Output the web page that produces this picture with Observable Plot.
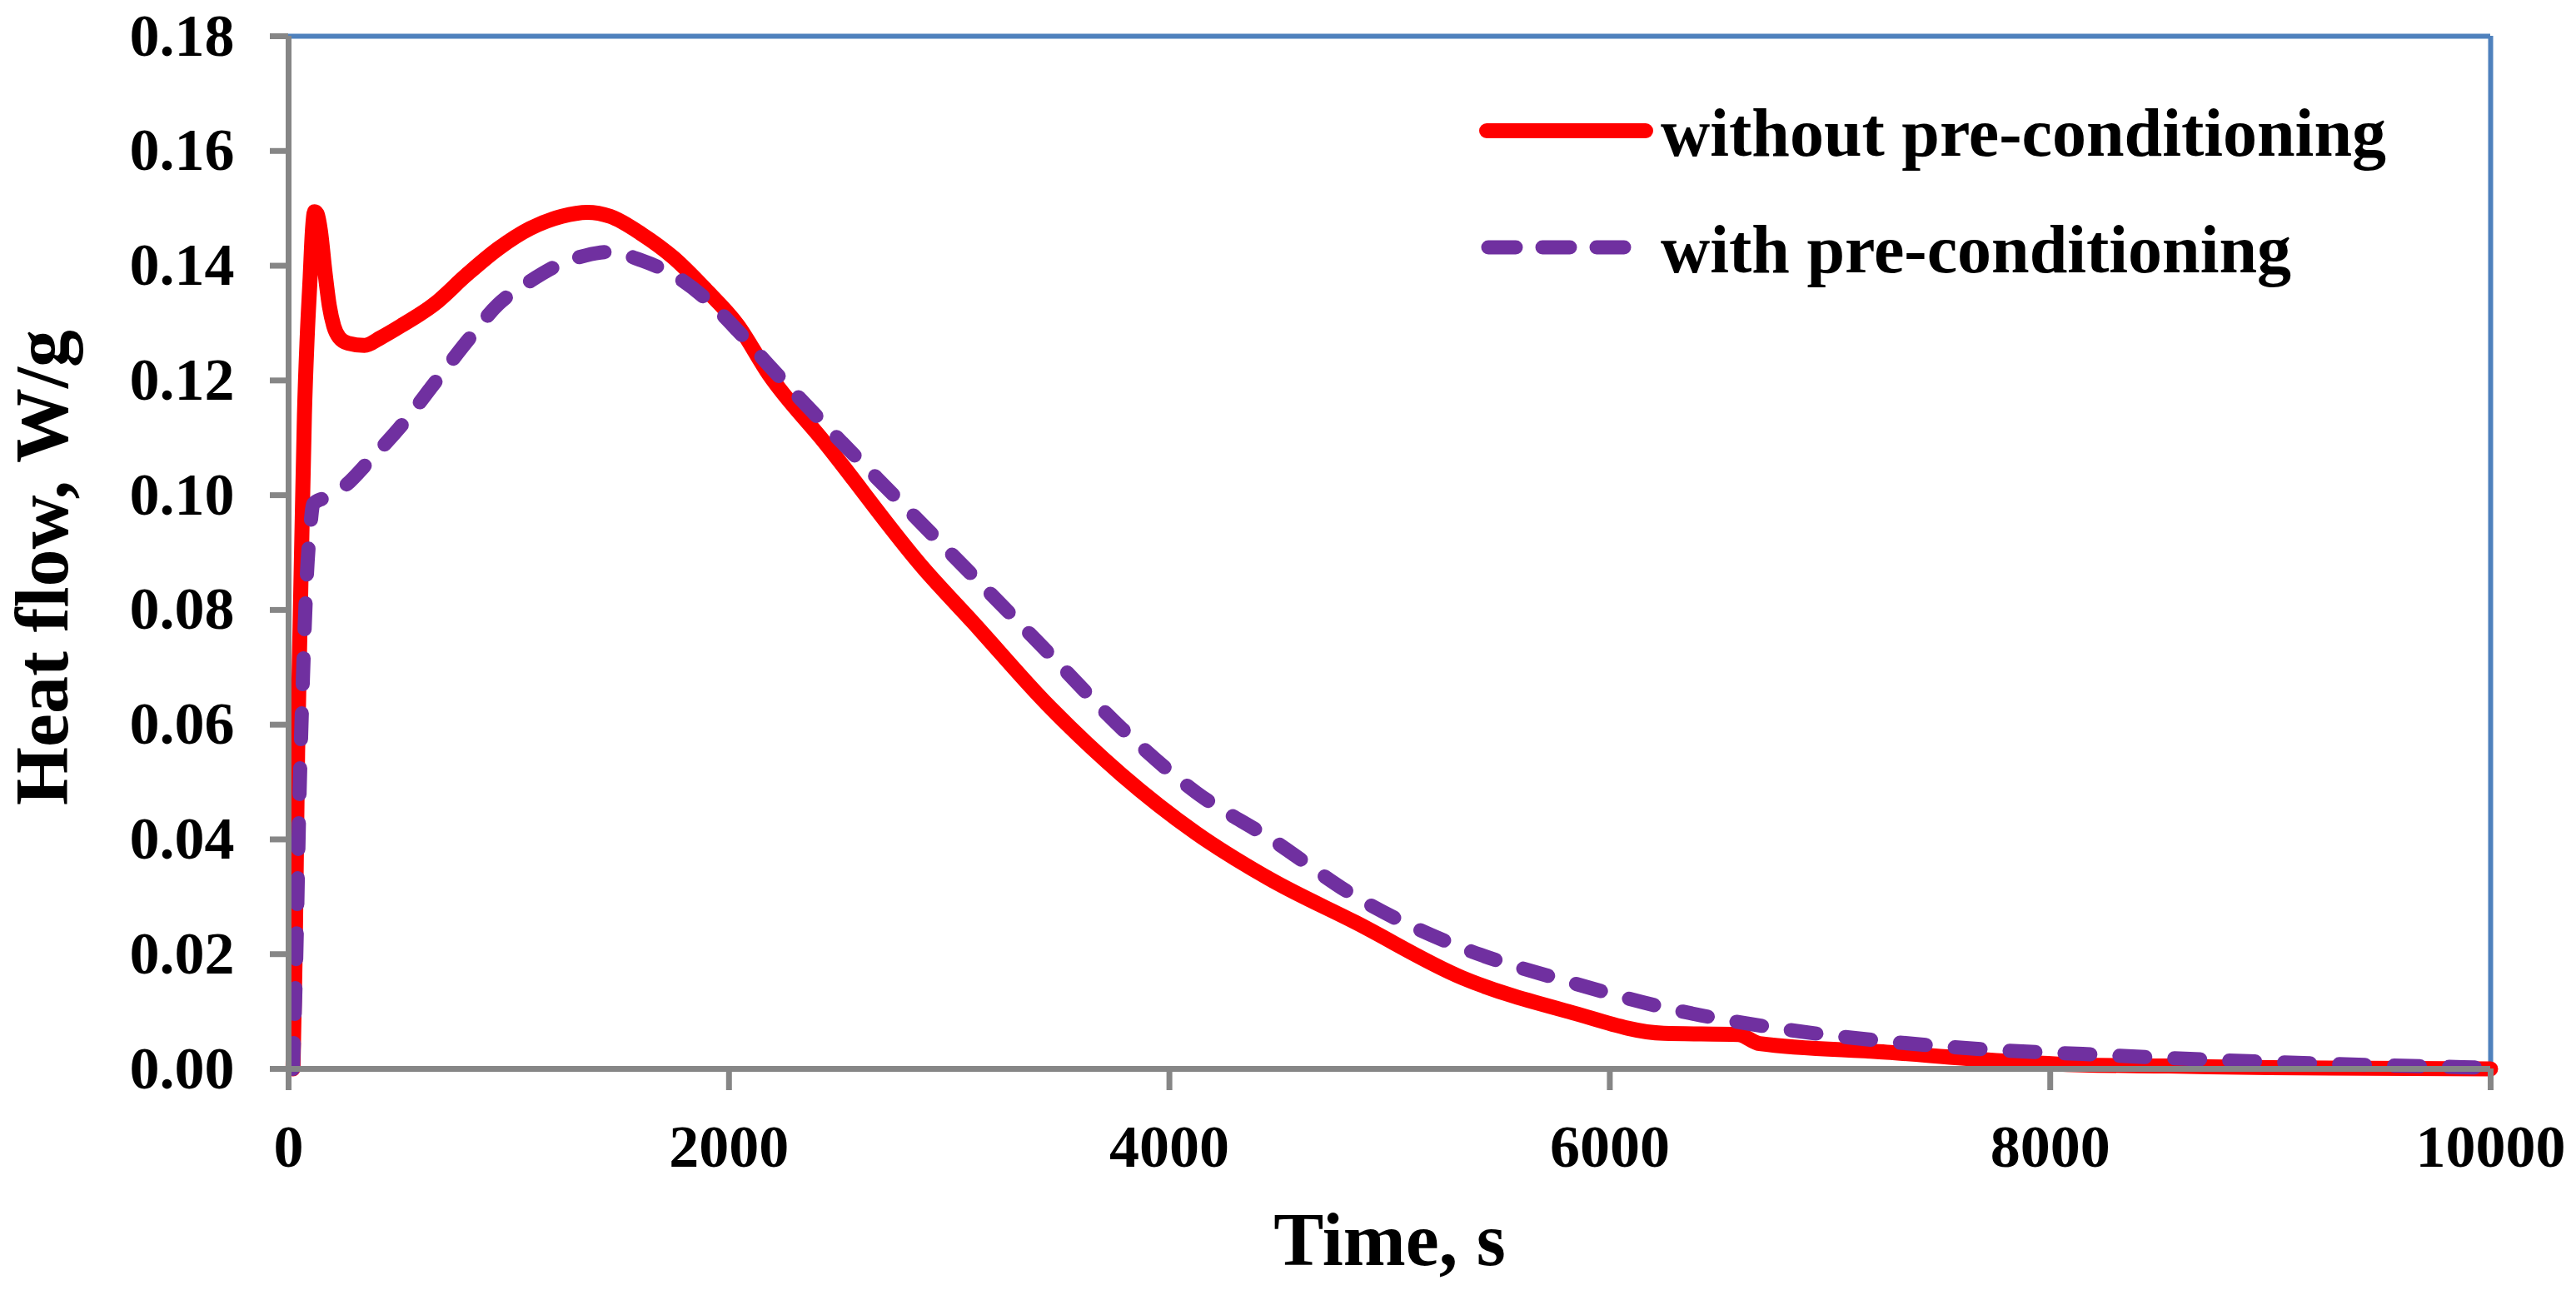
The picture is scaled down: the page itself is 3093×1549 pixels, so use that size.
<!DOCTYPE html>
<html>
<head>
<meta charset="utf-8">
<script src="https://cdn.jsdelivr.net/npm/d3@7"></script>
<script src="https://cdn.jsdelivr.net/npm/@observablehq/plot@0.6"></script>
<style>
  body { margin: 0; background: #fff; }
  #chart { position: relative; width: 3093px; height: 1549px; }
  #legend { position: absolute; left: 0; top: 0; }
</style>
</head>
<body>
<div id="chart"></div>
<script>
// values
const seriesNames = ["without pre-conditioning", "with pre-conditioning"];

const redTime = [20, 30, 41, 52, 62, 72, 85, 98, 108, 118, 130, 145, 165, 185, 205, 230, 270, 344, 420, 518, 662, 808, 953, 1097, 1241, 1357, 1460, 1604, 1748, 1893, 2039, 2182, 2432, 2889, 3109, 3446, 3782, 4121, 4460, 4847, 5329, 5812, 6245, 6583, 6680, 7258, 7742, 8147, 8538, 9000, 10000];
const redFlow = [0, 0.02, 0.055, 0.077, 0.096, 0.114, 0.128, 0.138, 0.146, 0.1494, 0.149, 0.146, 0.139, 0.133, 0.1295, 0.1275, 0.1265, 0.1261, 0.1275, 0.1297, 0.1333, 0.1384, 0.143, 0.1465, 0.1486, 0.1493, 0.1486, 0.1455, 0.1414, 0.1359, 0.1297, 0.121, 0.1093, 0.087, 0.0778, 0.0635, 0.0513, 0.0411, 0.033, 0.0255, 0.0159, 0.01, 0.0062, 0.006, 0.0044, 0.0029, 0.0015, 0.0007, 0.0005, 0.0002, 0];

const purpleTime = [20, 35, 48, 65, 83, 100, 112, 160, 242, 374, 518, 662, 808, 953, 1097, 1241, 1350, 1460, 1604, 1748, 1893, 2039, 2182, 2432, 2771, 3109, 3446, 3782, 4121, 4460, 4847, 5329, 5812, 6293, 6777, 7258, 7742, 8147, 8538, 9000, 9877, 10000];
const purpleFlow = [0, 0.02, 0.045, 0.068, 0.086, 0.095, 0.0985, 0.0995, 0.1012, 0.1063, 0.1124, 0.1195, 0.1267, 0.1333, 0.1373, 0.1404, 0.1418, 0.1424, 0.1409, 0.1384, 0.1343, 0.1287, 0.1226, 0.1124, 0.0991, 0.0859, 0.0727, 0.0594, 0.0482, 0.0401, 0.03, 0.0211, 0.0152, 0.0103, 0.007, 0.0048, 0.0033, 0.0026, 0.0019, 0.0012, 0.0003, 0.0002];

const xTicks = [0, 2000, 4000, 6000, 8000, 10000];
const yTicks = [0, 0.02, 0.04, 0.06, 0.08, 0.10, 0.12, 0.14, 0.16, 0.18];

const xTitle = "Time, s";
const yTitle = "Heat flow, W/g";

const red = redTime.map((t, i) => ({t, v: redFlow[i]}));
const purple = purpleTime.map((t, i) => ({t, v: purpleFlow[i]}));

const serif = "'Liberation Serif', 'Times New Roman', serif";
const axisGrey = "#868686";
const frameBlue = "#4F81BD";

const plot = Plot.plot({
  width: 3093,
  height: 1549,
  marginLeft: 346,
  marginRight: 103,
  marginTop: 43,
  marginBottom: 266,
  style: {fontFamily: serif, fontWeight: "bold", color: "black", background: "white"},
  x: {domain: [0, 10000]},
  y: {domain: [0, 0.18]},
  marks: [
    Plot.ruleY([0.18], {stroke: frameBlue, strokeWidth: 6}),
    Plot.ruleX([10000], {stroke: frameBlue, strokeWidth: 6}),
    Plot.line(red, {x: "t", y: "v", stroke: "#FF0000", strokeWidth: 18, curve: "monotone-x"}),
    Plot.line(purple, {x: "t", y: "v", stroke: "#7030A0", strokeWidth: 17, strokeDasharray: "31,35", strokeLinecap: "round", curve: "monotone-x"}),
    Plot.ruleX([0], {stroke: axisGrey, strokeWidth: 7}),
    Plot.ruleY([0], {stroke: axisGrey, strokeWidth: 7}),
    Plot.axisY({ticks: yTicks, tickFormat: d3.format(".2f"), tickSize: 22, tickPadding: 43,
      stroke: axisGrey, strokeWidth: 7, fill: "black", fontSize: 72, fontWeight: "bold", label: null}),
    Plot.axisX({ticks: xTicks, tickFormat: d3.format("d"), tickSize: 26, tickPadding: 40,
      stroke: axisGrey, strokeWidth: 7, fill: "black", fontSize: 72, fontWeight: "bold", label: null}),
    Plot.text([yTitle], {text: d => d, frameAnchor: "left", textAnchor: "middle", lineAnchor: "middle",
      rotate: -90, dx: -294, dy: 18, fontSize: 90, fontWeight: "bold", fill: "black"}),
    Plot.text([xTitle], {text: d => d, frameAnchor: "bottom", textAnchor: "middle", lineAnchor: "middle",
      dy: 207, fontSize: 90, fontWeight: "bold", fill: "black"})
  ]
});

const chart = document.querySelector("#chart");
chart.append(plot);

// legend drawn on top, inside the plot frame
const legend = d3.create("svg")
  .attr("id", "legend")
  .attr("width", 3093)
  .attr("height", 400)
  .style("font-family", serif)
  .style("font-weight", "bold");

legend.append("line")
  .attr("x1", 1785).attr("x2", 1976).attr("y1", 157).attr("y2", 157)
  .attr("stroke", "#FF0000").attr("stroke-width", 18).attr("stroke-linecap", "round");
legend.append("line")
  .attr("x1", 1787).attr("x2", 1951).attr("y1", 297).attr("y2", 297)
  .attr("stroke", "#7030A0").attr("stroke-width", 17).attr("stroke-linecap", "round")
  .attr("stroke-dasharray", "33,32");

legend.selectAll("text")
  .data(seriesNames)
  .join("text")
  .attr("x", 1994)
  .attr("y", (d, i) => 187 + i * 140)
  .attr("font-size", 82)
  .attr("fill", "black")
  .text(d => d);

chart.append(legend.node());
</script>
</body>
</html>
